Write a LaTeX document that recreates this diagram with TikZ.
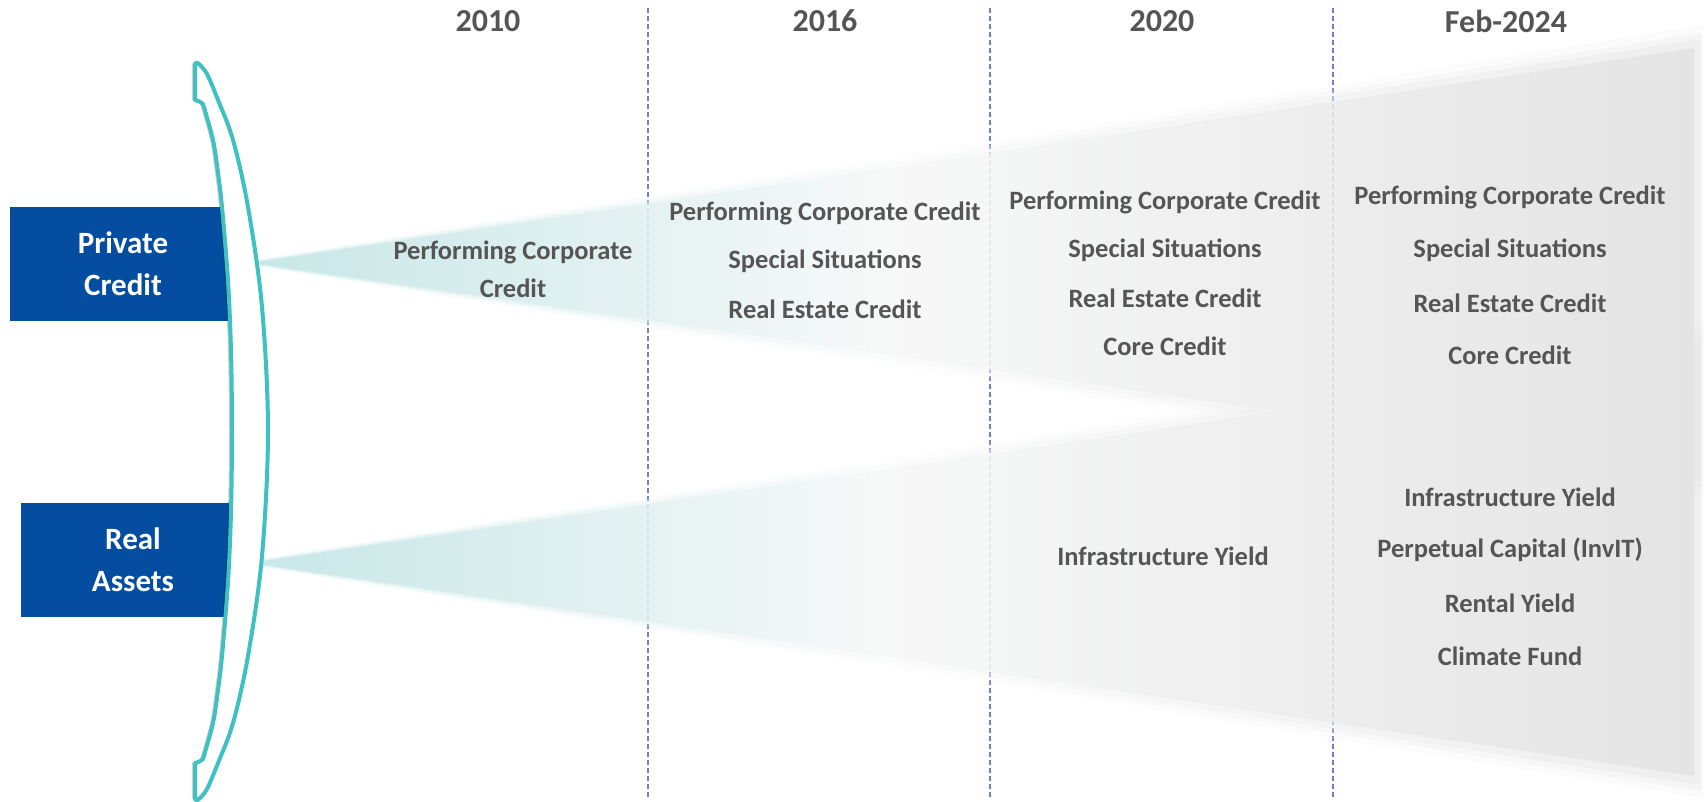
\documentclass[tikz,border=0pt]{standalone}
\usepackage{fontspec}
\setmainfont{Carlito}
\usetikzlibrary{shadows}
\definecolor{boxblue}{RGB}{4,77,161}
\definecolor{brteal}{RGB}{62,193,192}
\definecolor{txtgray}{RGB}{85,85,85}
\definecolor{sepblue}{RGB}{110,128,190}
\definecolor{wteal}{RGB}{192,228,228}
\definecolor{wteallt}{RGB}{224,240,240}
\definecolor{wwhite}{RGB}{247,248,248}
\definecolor{wgraymid}{RGB}{236,236,236}
\definecolor{wgray}{RGB}{225,225,225}
\pgfdeclarehorizontalshading{wedgeshade}{100bp}{color(0bp)=(wteal); color(25bp)=(wteal); color(38bp)=(wteallt); color(47bp)=(wwhite); color(61bp)=(wgraymid); color(75bp)=(wgray); color(100bp)=(wgray)}
\tikzset{
  sepline/.style={draw=sepblue, line width=0.75pt, dash pattern=on 2.5pt off 1.5pt},
  item/.style={font=\bfseries\fontsize{13.25pt}{16pt}\selectfont, text=txtgray, align=center, inner sep=0pt},
  yearhead/.style={font=\bfseries\fontsize{16pt}{18pt}\selectfont, text=txtgray, inner sep=0pt},
  catbox/.style={fill=boxblue, text=white, align=center, inner sep=0pt, font=\bfseries\fontsize{15.5pt}{21pt}\selectfont},
  bracketshape/.style={draw=brteal, line width=2pt, fill=white, line join=round,
     drop shadow={shadow xshift=-1.5pt, shadow yshift=0pt, opacity=0.18, fill=black}},
  wedgefill/.style={shading=wedgeshade, draw=none}
}
\begin{document}
\begin{tikzpicture}[x=0.5pt,y=-0.5pt]
\useasboundingbox (0,0) rectangle (1704,802);
\fill[white] (0,0) rectangle (1704,802);

% separators
\foreach \x/\n in {648/a,990/b,1333/c}{
  \coordinate (top\n) at (\x,8);
  \coordinate (bot\n) at (\x,800);
  \draw[sepline] (top\n) -- (bot\n);
}

% wedges
\begin{scope}[transparency group, opacity=0.88]
  % lower wedge (Real Assets)
  \shade[wedgefill, opacity=0.15] (235,563) -- (1703,327) -- (1703,798) -- cycle;
  \shade[wedgefill, opacity=0.25] (240,563) -- (1702,335) -- (1702,791) -- cycle;
  \shade[wedgefill, opacity=0.4] (245,563) -- (1700,341) -- (1700,785) -- cycle;
  \shade[wedgefill] (250,563) -- (1694,350) -- (1694,776) -- cycle;
  % upper wedge (Private Credit)
  \shade[wedgefill, opacity=0.15] (235,263) -- (1703,25) -- (1703,495) -- cycle;
  \shade[wedgefill, opacity=0.25] (240,263) -- (1702,33) -- (1702,487) -- cycle;
  \shade[wedgefill, opacity=0.4] (245,263) -- (1700,39) -- (1700,481) -- cycle;
  \shade[wedgefill] (250,263) -- (1694,48) -- (1694,471) -- cycle;
\end{scope}

% category boxes
\node[catbox, minimum width=113pt, minimum height=57pt] (pc) at (123,264) {Private\\Credit};
\node[catbox, minimum width=112pt, minimum height=57pt] (ra) at (133,560) {Real\\Assets};

% bracket
\path[bracketshape] (195,100) -- (195,66)
  .. controls (195,62) and (197,62) .. (199,64)
  -- plot[smooth, tension=0.55] coordinates {(199,64) (207,74) (218,100) (233,140) (248,207) (262,307) (268,431) (262,556) (248,656) (233,723) (218,763) (207,789) (199,799)}
  .. controls (197,801) and (195,801) .. (195,797)
  -- (195,763)
  .. controls (199,762) and (201,761) .. (203,759)
  -- plot[smooth, tension=0.55] coordinates {(203,759) (213,723) (218,690) (222,656) (228,582) (231,512) (232,431) (231,351) (228,281) (222,207) (218,173) (213,140) (203,104)}
  .. controls (201,102) and (199,101) .. (195,100) -- cycle;

% headers
\node[yearhead] (h1) at (488,21) {2010};
\node[yearhead] (h2) at (825,21) {2016};
\node[yearhead] (h3) at (1162,21) {2020};
\node[yearhead] (h4) at (1506,21) {Feb-2024};

% 2010
\node[item] (a1) at (513,252) {Performing Corporate};
\node[item] (a2) at (513,288) {Credit};

% 2016
\node[item] (b1) at (825,213) {Performing Corporate Credit};
\node[item] (b2) at (825,261) {Special Situations};
\node[item] (b3) at (825,309) {Real Estate Credit};

% 2020
\node[item] (c1) at (1165,202) {Performing Corporate Credit};
\node[item] (c2) at (1165,250) {Special Situations};
\node[item] (c3) at (1165,298) {Real Estate Credit};
\node[item] (c4) at (1165,346) {Core Credit};
\node[item] (c5) at (1163,556) {Infrastructure Yield};

% Feb-2024
\node[item] (d1) at (1510,197) {Performing Corporate Credit};
\node[item] (d2) at (1510,250) {Special Situations};
\node[item] (d3) at (1510,303) {Real Estate Credit};
\node[item] (d4) at (1510,355) {Core Credit};
\node[item] (d5) at (1510,497) {Infrastructure Yield};
\node[item] (d6) at (1510,550) {Perpetual Capital (InvIT)};
\node[item] (d7) at (1510,603) {Rental Yield};
\node[item] (d8) at (1510,656) {Climate Fund};
\end{tikzpicture}
\end{document}
